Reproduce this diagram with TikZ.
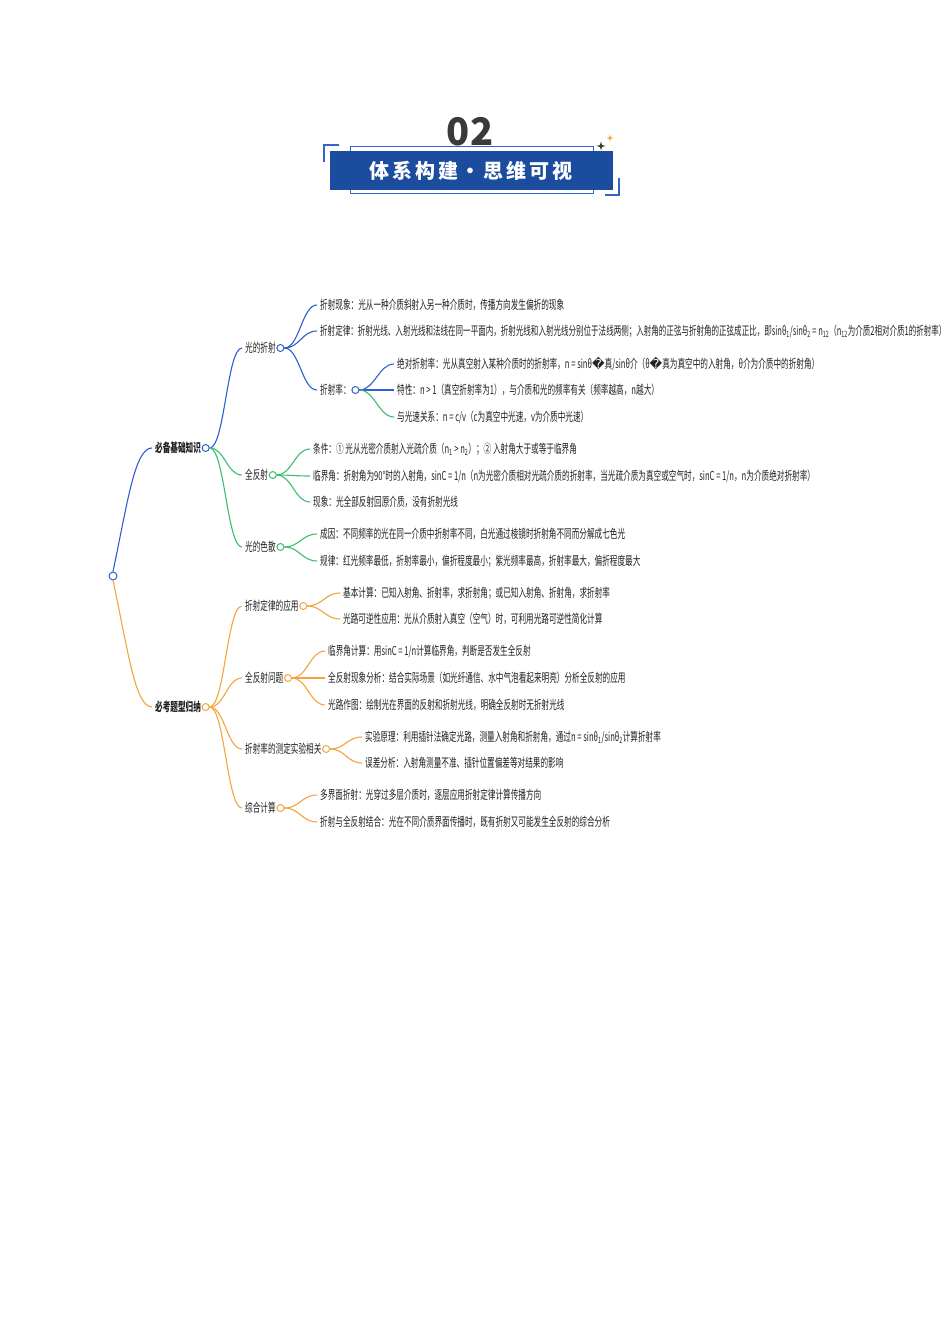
\documentclass[tikz,border=0pt]{standalone}
\usepackage{fontspec}
\newfontfamily\cjk{Noto Sans CJK SC}[FakeStretch=0.62]
\newfontfamily\cjknar{Noto Sans CJK SC}[FakeStretch=0.612]
\newfontfamily\cjkw{Noto Sans CJK SC}
\newfontfamily\dv{DejaVu Sans}
\definecolor{boxcol}{HTML}{1B4C9E}
\definecolor{framecol}{HTML}{3366C2}
\definecolor{numcol}{HTML}{3A3A3A}
\definecolor{bl}{HTML}{2F5FD0}
\definecolor{gr}{HTML}{3CBF6C}
\definecolor{og}{HTML}{F3A43C}
\definecolor{txt}{HTML}{222222}
\newcommand{\rep}{{\dv\char"FFFD}}
\newcommand{\sub}[1]{\textsubscript{#1}}
\tikzset{
  lab/.style={anchor=west,inner sep=0pt,text=txt,font=\cjk\fontsize{12.3}{14}\selectfont},
  mainlab/.style={lab,font=\cjk\bfseries\fontsize{12.3}{14}\selectfont},
  dot/.style={circle,draw=#1,fill=white,line width=1pt,minimum size=7pt,inner sep=0pt},
  conn/.style={draw=#1,line width=1.1pt,to path={.. controls +(15,0) and +(-15,0) .. (\tikztotarget)}},
}
\begin{document}
\begin{tikzpicture}[x=1pt,y=-1pt]
\fill[white] (0,0) rectangle (950,1344);
\useasboundingbox (0,0) rectangle (950,1344);
% ---------- header ----------
\node[font=\cjkw\bfseries\fontsize{38}{40}\selectfont,text=numcol,inner sep=0pt] (num) at (470,132) {02};
\draw[framecol,line width=1pt] (350,146) rectangle (593,193);
\fill[boxcol] (330,151) rectangle (613,190);
\draw[framecol,line width=1.2pt] (339,145) -- (324,145) -- (324,162);
\draw[framecol,line width=1.2pt] (605,195) -- (619,195) -- (619,178);
\node[font=\cjkw\bfseries\fontsize{20}{22}\selectfont\addfontfeature{LetterSpace=14},text=white,inner sep=0pt] (title) at (471,171) {体系构建·思维可视};
\fill[numcol] (601,141.5) -- (602,145) -- (605.5,146) -- (602,147) -- (601,150.5) -- (600,147) -- (596.5,146) -- (600,145) -- cycle;
\fill[og] (610,134.5) -- (610.8,137.2) -- (613.5,138) -- (610.8,138.8) -- (610,141.5) -- (609.2,138.8) -- (606.5,138) -- (609.2,137.2) -- cycle;
% ---------- mind map ----------
\node[dot=bl,minimum size=8pt] (root) at (113,576) {};
\node[mainlab] (A) at (155,448) {必备基础知识};
\node[dot=bl] (Ac) at ([xshift=4.5]A.east) {};
\node[mainlab] (B) at (155,707) {必考题型归纳};
\node[dot=og] (Bc) at ([xshift=4.5]B.east) {};
\draw[bl,line width=1.1pt] (root.north) .. controls (128,500) and (135,448) .. ([xshift=-3]A.west);
\draw[og,line width=1.1pt] (root.south) .. controls (128,650) and (135,707) .. ([xshift=-3]B.west);
% blue group
\node[lab] (A1) at (245,348) {光的折射};
\node[dot=bl] (A1c) at ([xshift=4.5]A1.east) {};
\node[lab] (A11) at (320,305) {折射现象：光从一种介质斜射入另一种介质时，传播方向发生偏折的现象};
\node[lab,font=\cjknar\fontsize{12.3}{14}\selectfont] (A12) at (320,331) {折射定律：折射光线、入射光线和法线在同一平面内，折射光线和入射光线分别位于法线两侧；入射角的正弦与折射角的正弦成正比，即sinθ\sub{1}/sinθ\sub{2} = n\sub{12}（n\sub{12}为介质2相对介质1的折射率）};
\node[lab] (A13) at (320,390) {折射率：};
\node[dot=bl] (A13c) at ([xshift=4.5]A13.east) {};
\node[lab] (A131) at (397,364) {绝对折射率：光从真空射入某种介质时的折射率，n = sinθ\rep 真/sinθ介（θ\rep 真为真空中的入射角，θ介为介质中的折射角）};
\node[lab] (A132) at (397,390) {特性：n > 1（真空折射率为1），与介质和光的频率有关（频率越高，n越大）};
\node[lab] (A133) at (397,417) {与光速关系：n = c/v（c为真空中光速，v为介质中光速）};
\node[lab] (A2) at (245,475) {全反射};
\node[dot=gr] (A2c) at ([xshift=4.5]A2.east) {};
\node[lab] (A21) at (313,449) {条件：① 光从光密介质射入光疏介质（n\sub{1} > n\sub{2}）；② 入射角大于或等于临界角};
\node[lab] (A22) at (313,476) {临界角：折射角为90°时的入射角，sinC = 1/n（n为光密介质相对光疏介质的折射率，当光疏介质为真空或空气时，sinC = 1/n，n为介质绝对折射率）};
\node[lab] (A23) at (313,502) {现象：光全部反射回原介质，没有折射光线};
\node[lab] (A3) at (245,547) {光的色散};
\node[dot=gr] (A3c) at ([xshift=4.5]A3.east) {};
\node[lab] (A31) at (320,534) {成因：不同频率的光在同一介质中折射率不同，白光通过棱镜时折射角不同而分解成七色光};
\node[lab] (A32) at (320,561) {规律：红光频率最低，折射率最小，偏折程度最小；紫光频率最高，折射率最大，偏折程度最大};
\draw[conn=bl] (Ac.east) to ([xshift=-3]A1.west);
\draw[conn=gr] (Ac.east) to ([xshift=-3]A2.west);
\draw[conn=gr] (Ac.east) to ([xshift=-3]A3.west);
\draw[conn=bl] (A1c.east) to ([xshift=-3]A11.west);
\draw[conn=bl] (A1c.east) to ([xshift=-3]A12.west);
\draw[conn=bl] (A1c.east) to ([xshift=-3]A13.west);
\draw[conn=bl] (A13c.east) to ([xshift=-3]A131.west);
\draw[conn=bl] (A13c.east) to ([xshift=-3]A132.west);
\draw[conn=gr] (A13c.east) to ([xshift=-3]A133.west);
\draw[conn=gr] (A2c.east) to ([xshift=-3]A21.west);
\draw[conn=gr] (A2c.east) to ([xshift=-3]A22.west);
\draw[conn=gr] (A2c.east) to ([xshift=-3]A23.west);
\draw[conn=gr] (A3c.east) to ([xshift=-3]A31.west);
\draw[conn=gr] (A3c.east) to ([xshift=-3]A32.west);
% orange group
\node[lab] (B1) at (245,606) {折射定律的应用};
\node[dot=og] (B1c) at ([xshift=4.5]B1.east) {};
\node[lab] (B11) at (343,593) {基本计算：已知入射角、折射率，求折射角；或已知入射角、折射角，求折射率};
\node[lab] (B12) at (343,619) {光路可逆性应用：光从介质射入真空（空气）时，可利用光路可逆性简化计算};
\node[lab] (B2) at (245,678) {全反射问题};
\node[dot=og] (B2c) at ([xshift=4.5]B2.east) {};
\node[lab] (B21) at (328,651) {临界角计算：用sinC = 1/n计算临界角，判断是否发生全反射};
\node[lab] (B22) at (328,678) {全反射现象分析：结合实际场景（如光纤通信、水中气泡看起来明亮）分析全反射的应用};
\node[lab] (B23) at (328,705) {光路作图：绘制光在界面的反射和折射光线，明确全反射时无折射光线};
\node[lab] (B3) at (245,749) {折射率的测定实验相关};
\node[dot=og] (B3c) at ([xshift=4.5]B3.east) {};
\node[lab] (B31) at (365,737) {实验原理：利用插针法确定光路，测量入射角和折射角，通过n = sinθ\sub{1}/sinθ\sub{2}计算折射率};
\node[lab] (B32) at (365,763) {误差分析：入射角测量不准、插针位置偏差等对结果的影响};
\node[lab] (B4) at (245,808) {综合计算};
\node[dot=og] (B4c) at ([xshift=4.5]B4.east) {};
\node[lab] (B41) at (320,795) {多界面折射：光穿过多层介质时，逐层应用折射定律计算传播方向};
\node[lab] (B42) at (320,822) {折射与全反射结合：光在不同介质界面传播时，既有折射又可能发生全反射的综合分析};
\draw[conn=og] (Bc.east) to ([xshift=-3]B1.west);
\draw[conn=og] (Bc.east) to ([xshift=-3]B2.west);
\draw[conn=og] (Bc.east) to ([xshift=-3]B3.west);
\draw[conn=og] (Bc.east) to ([xshift=-3]B4.west);
\draw[conn=og] (B1c.east) to ([xshift=-3]B11.west);
\draw[conn=og] (B1c.east) to ([xshift=-3]B12.west);
\draw[conn=og] (B2c.east) to ([xshift=-3]B21.west);
\draw[conn=og] (B2c.east) to ([xshift=-3]B22.west);
\draw[conn=og] (B2c.east) to ([xshift=-3]B23.west);
\draw[conn=og] (B3c.east) to ([xshift=-3]B31.west);
\draw[conn=og] (B3c.east) to ([xshift=-3]B32.west);
\draw[conn=og] (B4c.east) to ([xshift=-3]B41.west);
\draw[conn=og] (B4c.east) to ([xshift=-3]B42.west);
\end{tikzpicture}
\end{document}
